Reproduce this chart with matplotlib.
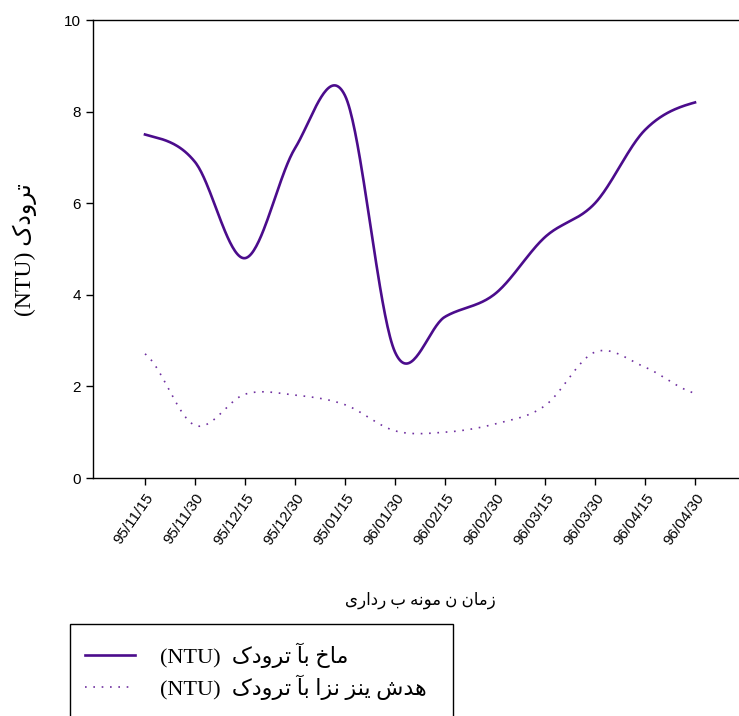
import numpy as np
import matplotlib.pyplot as plt
from matplotlib.patches import Rectangle

# sampling dates (as printed on the axis)
dates = ['95/11/15', '95/11/30', '95/12/15', '95/12/30', '95/01/15', '96/01/30',
         '96/02/15', '96/02/30', '96/03/15', '96/03/30', '96/04/15', '96/04/30']
# turbidity (NTU)
raw_ntu = [7.5, 6.9, 4.8, 7.2, 8.35, 2.75, 3.52, 4.02, 5.26, 6.0, 7.6, 8.2]
ozone_ntu = [2.71, 1.15, 1.83, 1.81, 1.6, 1.03, 1.0, 1.18, 1.58, 2.75, 2.42, 1.85]
yticks = [0, 2, 4, 6, 8, 10]

# persian words written with presentation forms in visual (left to right) order
kodurat = '\uFB8E\uFEA9\uFEED\uFEAE\uFE97'
ab = '\uFE82\uFE91'
kham = '\uFEA5\uFE8E\uFEE3'
ozon = '\uFE8D\uFEB0\uFEE7'
zani = '\uFEB0\uFEE8\uFBFE'
shode = '\uFEB5\uFEAA\uFEEB'
xlabel = ('\uFBFC\uFEAD\uFE8D\uFEA9\uFEAD' + ' ' + '\uFE8F' + ' ' +
          '\uFEEA\uFEE7\uFEEE\uFEE3' + ' ' + '\uFEE5' + ' ' +
          '\uFEE5\uFE8E\uFEE3\uFEAF')
ylabel = '(NTU) ' + kodurat
label_raw = '(NTU)  ' + kodurat + ' ' + ab + ' ' + kham
label_ozone = '(NTU)  ' + kodurat + ' ' + ab + ' ' + ozon + ' ' + zani + ' ' + shode

fa_font = ['Liberation Serif', 'DejaVu Sans']


def smooth(y, n=40):
    # excel-like smoothed line (catmull-rom through the points)
    y = np.asarray(y, float)
    m = np.zeros_like(y)
    m[1:-1] = (y[2:] - y[:-2]) / 2
    m[0] = (y[1] - y[0]) / 2
    m[-1] = (y[-1] - y[-2]) / 2
    xs, ys = [], []
    t = np.linspace(0, 1, n, endpoint=False)
    for i in range(len(y) - 1):
        h00 = 2*t**3 - 3*t**2 + 1
        h10 = t**3 - 2*t**2 + t
        h01 = -2*t**3 + 3*t**2
        h11 = t**3 - t**2
        xs.append(i + t)
        ys.append(h00*y[i] + h10*m[i] + h01*y[i+1] + h11*m[i+1])
    xs.append([len(y) - 1])
    ys.append([y[-1]])
    return np.concatenate(xs), np.concatenate(ys)


plt.rcParams['font.family'] = ['Liberation Sans', 'DejaVu Sans']

W, H = 739, 716
fig = plt.figure(figsize=(W/100, H/100), dpi=100)
ax = fig.add_axes([93/W, 1 - 478/H, (745 - 93)/W, (478 - 20)/H])

x = np.arange(len(dates))
xs, ys = smooth(raw_ntu)
ax.plot(xs, ys, color='#4B0C8C', lw=1.9, label=label_raw)
xs, ys = smooth(ozone_ntu)
ax.plot(xs, ys, color='#7030A0', lw=1.2, linestyle=(0, (1, 4)), label=label_ozone)

ax.set_xlim(-1.04, 12.0)
ax.set_ylim(0, 10)
ax.set_yticks(yticks)
ax.set_xticks(x)
ax.set_xticklabels(dates, rotation=55, ha='right', va='top', rotation_mode='anchor')
ax.tick_params(axis='both', direction='out', length=5, width=1, labelsize=11, colors='black')
ax.tick_params(axis='x', pad=4)
ax.spines['right'].set_visible(False)
for s in ['left', 'bottom', 'top']:
    ax.spines[s].set_linewidth(1)

fig.text(420/W, 1 - 600/H, xlabel, ha='center', va='center', fontsize=12, family=fa_font)
fig.text(25/W, 1 - 250/H, ylabel, ha='center', va='center', rotation=90, fontsize=17, family=fa_font)

# legend box runs off the bottom of the picture, so the frame is drawn by hand
fig.patches.append(Rectangle((70/W, -0.05), (453 - 70)/W, 0.05 + 1 - 624/H,
                             transform=fig.transFigure, fill=False,
                             edgecolor='black', linewidth=1))
leg = fig.legend(loc='upper left', bbox_to_anchor=(70/W, 1 - 627/H), frameon=False,
                 borderpad=0.68, borderaxespad=0,
                 handlelength=2.25, handletextpad=1.13, labelspacing=0.3,
                 prop={'family': fa_font, 'size': 16})

fig.savefig('out.png', dpi=100)
